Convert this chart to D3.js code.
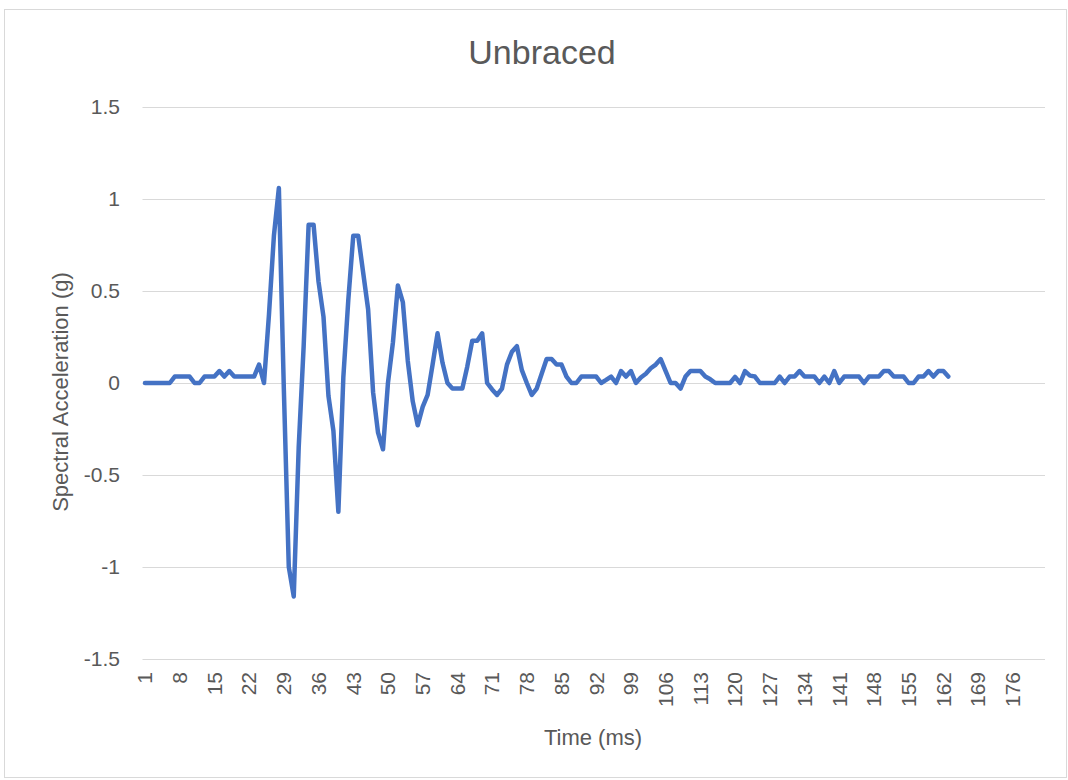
<!DOCTYPE html>
<html>
<head>
<meta charset="utf-8">
<script src="https://cdn.jsdelivr.net/npm/d3@7"></script>
<style>
  body { margin: 0; background: #fff; }
  text { font-family: "Liberation Sans", Arial, sans-serif; fill: #595959; }
</style>
</head>
<body>
<svg width="1068" height="780"></svg>
<script>
// categories (ms) shown on the axis, 1..182
const categories = d3.range(1, 183);
// spectral acceleration (g), one value per ms, data stops at 163
const accel = [
  0, 0, 0, 0, 0, 0, 0.035, 0.035, 0.035, 0.035,
  0, 0, 0.035, 0.035, 0.035, 0.065, 0.035, 0.065, 0.035, 0.035,
  0.035, 0.035, 0.035, 0.1, 0, 0.37, 0.8, 1.06, -0.03, -1.0,
  -1.16, -0.35, 0.2, 0.86, 0.86, 0.55, 0.36, -0.07, -0.26, -0.7,
  0.03, 0.45, 0.8, 0.8, 0.6, 0.4, -0.05, -0.27, -0.36, 0,
  0.22, 0.53, 0.44, 0.12, -0.1, -0.23, -0.13, -0.065, 0.1, 0.27,
  0.11, 0, -0.03, -0.03, -0.03, 0.09, 0.23, 0.23, 0.27, 0,
  -0.035, -0.065, -0.03, 0.1, 0.17, 0.2, 0.07, 0, -0.065, -0.03,
  0.05, 0.13, 0.13, 0.1, 0.1, 0.035, 0, 0, 0.035, 0.035,
  0.035, 0.035, 0, 0.017, 0.035, 0, 0.065, 0.035, 0.065, 0,
  0.03, 0.05, 0.08, 0.1, 0.13, 0.065, 0, 0, -0.03, 0.035,
  0.065, 0.065, 0.065, 0.035, 0.02, 0, 0, 0, 0, 0.033,
  0, 0.065, 0.04, 0.035, 0, 0, 0, 0, 0.035, 0,
  0.035, 0.035, 0.065, 0.035, 0.035, 0.035, 0, 0.035, 0, 0.065,
  0, 0.035, 0.035, 0.035, 0.035, 0, 0.035, 0.035, 0.035, 0.065,
  0.065, 0.035, 0.035, 0.035, 0, 0, 0.035, 0.035, 0.065, 0.035,
  0.065, 0.065, 0.035
];
const yTicks = [-1.5, -1, -0.5, 0, 0.5, 1, 1.5];
const xTickLabels = categories.filter(c => (c - 1) % 7 === 0);

const svg = d3.select("svg");

// outer chart border
svg.append("rect")
    .attr("x", 4.5).attr("y", 9.5)
    .attr("width", 1062).attr("height", 768)
    .attr("fill", "none")
    .attr("stroke", "#d9d9d9");

var x = d3.scaleBand().domain(categories).range([142.5, 1045]);
var y = d3.scaleLinear().domain([-1.5, 1.5]).range([659, 107]);
const cx = c => x(c) + x.bandwidth() / 2;

// gridlines
svg.append("g")
    .selectAll("line")
    .data(yTicks)
    .enter().append("line")
    .attr("x1", 142.5).attr("x2", 1045)
    .attr("y1", d => Math.round(y(d)) + 0.5)
    .attr("y2", d => Math.round(y(d)) + 0.5)
    .attr("stroke", "#d9d9d9")
    .attr("stroke-width", 1);

// y tick labels
svg.append("g")
    .selectAll("text")
    .data(yTicks)
    .enter().append("text")
    .attr("x", 120)
    .attr("y", d => y(d))
    .attr("dy", "0.35em")
    .attr("text-anchor", "end")
    .style("font-size", "21px")
    .text(d => d);

// x tick labels, rotated
svg.append("g")
    .selectAll("text")
    .data(xTickLabels)
    .enter().append("text")
    .attr("transform", d => `translate(${cx(d)},672) rotate(-90)`)
    .attr("dy", "0.35em")
    .attr("text-anchor", "end")
    .style("font-size", "21px")
    .text(d => d);

// series line
var line = d3.line()
    .x((d, i) => cx(categories[i]))
    .y(d => y(d))
    .curve(d3.curveLinear);

svg.append("path")
    .datum(accel)
    .attr("d", line)
    .attr("fill", "none")
    .attr("stroke", "#4472c4")
    .attr("stroke-width", 4.5)
    .attr("stroke-linejoin", "round")
    .attr("stroke-linecap", "round");

// titles
svg.append("text")
    .attr("x", 542).attr("y", 64)
    .attr("text-anchor", "middle")
    .style("font-size", "34px")
    .text("Unbraced");

svg.append("text")
    .attr("x", 593).attr("y", 745)
    .attr("text-anchor", "middle")
    .style("font-size", "22px")
    .text("Time (ms)");

svg.append("text")
    .attr("transform", "translate(60,392) rotate(-90)")
    .attr("dy", "0.35em")
    .attr("text-anchor", "middle")
    .style("font-size", "22px")
    .text("Spectral Acceleration (g)");
</script>
</body>
</html>
